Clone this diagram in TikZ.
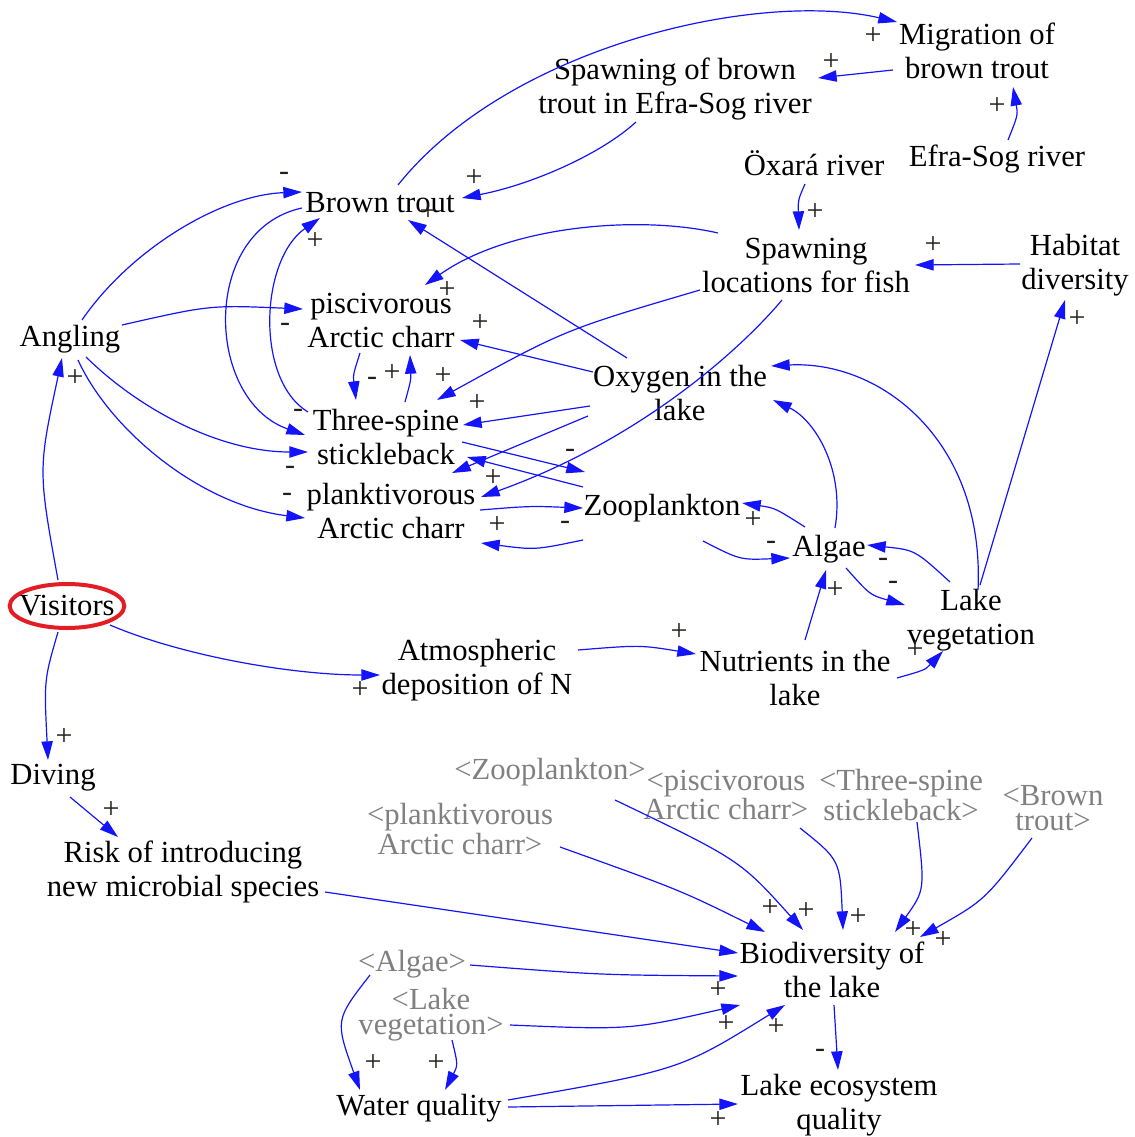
\documentclass[tikz,border=0pt]{standalone}
\usepackage{fontspec}
\setmainfont{Liberation Serif}
\usetikzlibrary{arrows.meta,calc}
\definecolor{linkblue}{RGB}{20,20,250}
\definecolor{shadow}{RGB}{128,128,128}
\definecolor{ring}{RGB}{228,28,36}
\definecolor{signink}{RGB}{35,30,25}
\tikzset{
  lbl/.style={font=\fontsize{23}{25.5}\selectfont, align=center, inner sep=0pt, text=black},
  ghost/.style={font=\fontsize{23}{18.8}\selectfont, align=center, inner sep=0pt, text=shadow},
  link/.style={draw=linkblue, line width=0.9pt, -{Triangle[length=14pt,width=8.5pt]}, fill=none},
  sgn/.style={font=\fontsize{22.5}{25.5}\selectfont, inner sep=0pt, text=signink},
}
\begin{document}
\begin{tikzpicture}[x=0.75pt,y=-0.75pt]
\useasboundingbox (0,0) rectangle (1134,1137);

% ---------- variables ----------
\node[lbl] (mig)   at (977,51)   {Migration of\\brown trout};
\node[lbl] (spb)   at (675,89)   {Spawning of brown\\trout in Efra-Sog river};
\node[lbl] (efra)  at (997,159)  {Efra-Sog river};
\node[lbl] (oxara) at (814,163)  {Öxará river};
\node[lbl] (bt)    at (380,203)  {Brown trout};
\node[lbl] (sloc)  at (806,265)  {Spawning\\locations for fish};
\node[lbl] (hab)   at (1075,265) {Habitat\\diversity};
\node[lbl] (pisc)  at (381,320)  {piscivorous\\Arctic charr};
\node[lbl] (ang)   at (70,339)   {Angling};
\node[lbl] (oxy)   at (680,393)  {Oxygen in the\\lake};
\node[lbl] (tss)   at (386,437)  {Three-spine\\stickleback};
\node[lbl] (plk)   at (391,511)  {planktivorous\\Arctic charr};
\node[lbl] (zoo)   at (662,508)  {Zooplankton};
\node[lbl] (alg)   at (829,549)  {Algae};
\node[lbl] (veg)   at (971,620)  {Lake\\vegetation};
\node[lbl] (vis)   at (67,606)   {Visitors};
\node[lbl] (atm)   at (477,670)  {Atmospheric\\deposition of N};
\node[lbl] (nut)   at (795,678)  {Nutrients in the\\lake};
\node[lbl] (div)   at (53,778)   {Diving};
\node[lbl] (risk)  at (183,872)  {Risk of introducing\\new microbial species};
\node[lbl] (bio)   at (832,970)  {Biodiversity of\\the lake};
\node[lbl] (wq)    at (419,1108) {Water quality};
\node[lbl] (leq)   at (839,1105) {Lake ecosystem\\quality};

% highlight ring round the visitors variable
\draw[ring, line width=3pt] (vis) ellipse [x radius=43pt, y radius=16.5pt];

% ---------- shadow variables ----------
\node[ghost] (gzoo)  at (550,772)  {<Zooplankton>};
\node[ghost] (gpisc) at (726,795)  {<piscivorous\\Arctic charr>};
\node[ghost] (gtss)  at (901,795)  {<Three-spine\\stickleback>};
\node[ghost] (gbt)   at (1053,808) {<Brown\\trout>};
\node[ghost] (gplk)  at (460,829)  {<planktivorous\\Arctic charr>};
\node[ghost] (galg)  at (412,964)  {<Algae>};
\node[ghost] (gveg)  at (431,1015) {<Lake\\vegetation>};

% ---------- links: upper part ----------
\draw[link] ($(bt)+(18,-18)$) .. controls (510,45) and (760,-10) .. ($(mig)+(-80,-29)$);
\draw[link] ($(mig)+(-84,19)$) -- ($(spb)+(143,-11)$);
\draw[link] ($(efra)+(11,-19)$) .. controls (1018,115) .. ($(mig)+(36,36)$);
\draw[link] ($(spb)+(-39,33)$) .. controls (600,155) and (530,185) .. ($(bt)+(82,-5)$);
\draw[link] ($(oxara)+(-9,21)$) .. controls (798,200) .. ($(sloc)+(-7,-35)$);
\draw[link] ($(hab)+(-55,-1)$) -- ($(sloc)+(109,0)$);
\draw[link] ($(veg)+(9,-35)$) -- ($(hab)+(-10,35)$);
\draw[link] ($(sloc)+(-88,-32)$) .. controls (640,215) and (510,225) .. ($(pisc)+(44,-35)$);
\draw[link] ($(sloc)+(-106,25)$) .. controls (564,330) .. ($(tss)+(51,-37)$);
\draw[link] ($(sloc)+(-24,35)$) .. controls (740,350) and (640,440) .. ($(plk)+(90,-14)$);

% ---------- links: oxygen ----------
\draw[link] ($(oxy)+(-53,-35)$) -- ($(bt)+(28,17)$);
\draw[link] ($(oxy)+(-87,-21)$) -- ($(pisc)+(79,20)$);
\draw[link] ($(oxy)+(-90,13)$) -- ($(tss)+(77,-12)$);
\draw[link] ($(oxy)+(-92,23)$) -- ($(plk)+(61,-38)$);

% ---------- links: fish and zooplankton ----------
\draw[link] ($(tss)+(76,5)$) -- ($(zoo)+(-77,-36)$);
\draw[link] ($(zoo)+(-79,-21)$) -- ($(tss)+(81,20)$);
\draw[link] ($(plk)+(89,-1)$) .. controls (530,506) .. ($(zoo)+(-79,0)$);
\draw[link] ($(zoo)+(-79,32)$) .. controls (535,550) .. ($(plk)+(90,32)$);
\draw[link] ($(bt)+(-78,5)$) .. controls (200,230) and (205,400) .. ($(tss)+(-81,-2)$);
\draw[link] ($(tss)+(-78,-25)$) .. controls (255,380) and (260,260) .. ($(bt)+(-60,15)$);
\draw[link] ($(pisc)+(-21,33)$) .. controls (353,375) .. ($(tss)+(-30,-37)$);
\draw[link] ($(tss)+(19,-35)$) .. controls (411,380) .. ($(pisc)+(29,35)$);

% ---------- links: angling and visitors ----------
\draw[link] ($(ang)+(12,-19)$) .. controls (130,250) and (220,195) .. ($(bt)+(-78,-11)$);
\draw[link] ($(ang)+(52,-14)$) .. controls (210,305) .. ($(pisc)+(-78,-11)$);
\draw[link] ($(ang)+(16,18)$) .. controls (140,410) and (220,452) .. ($(tss)+(-78,15)$);
\draw[link] ($(ang)+(8,21)$) .. controls (110,430) and (200,505) .. ($(plk)+(-86,7)$);
\draw[link] ($(vis)+(-9,-26)$) .. controls (38,470) .. ($(ang)+(-8,19)$);
\draw[link] ($(vis)+(43,19)$) .. controls (180,655) and (290,675) .. ($(atm)+(-97,5)$);
\draw[link] ($(vis)+(-9,26)$) .. controls (44,680) .. ($(div)+(-5,-18)$);
\draw[link] ($(div)+(17,19)$) -- ($(risk)+(-65,-35)$);

% ---------- links: algae, vegetation, nutrients ----------
\draw[link] ($(alg)+(-24,-22)$) .. controls (775,508) .. ($(zoo)+(80,-5)$);
\draw[link] ($(zoo)+(41,33)$) .. controls (740,560) .. ($(alg)+(-39,9)$);
\draw[link] ($(alg)+(6,-21)$) .. controls (845,470) and (815,420) .. ($(oxy)+(93,7)$);
\draw[link] ($(veg)+(7,-30)$) .. controls (985,440) and (880,360) .. ($(oxy)+(91,-27)$);
\draw[link] ($(veg)+(-21,-38)$) .. controls (915,550) .. ($(alg)+(38,-4)$);
\draw[link] ($(alg)+(17,19)$) .. controls (870,595) .. ($(veg)+(-66,-15)$);
\draw[link] ($(nut)+(10,-38)$) -- ($(alg)+(-3,21)$);
\draw[link] ($(nut)+(102,0)$) .. controls (925,670) .. ($(veg)+(-28,31)$);
\draw[link] ($(atm)+(101,-20)$) .. controls (640,645) .. ($(nut)+(-99,-24)$);

% ---------- links: biodiversity ----------
\draw[link] ($(gplk)+(100,18)$) .. controls (680,890) .. ($(bio)+(-67,-38)$);
\draw[link] ($(gzoo)+(65,28)$) .. controls (740,860) .. ($(bio)+(-29,-40)$);
\draw[link] ($(gpisc)+(74,33)$) .. controls (840,860) .. ($(bio)+(11,-40)$);
\draw[link] ($(gtss)+(16,27)$) .. controls (925,890) .. ($(bio)+(63,-38)$);
\draw[link] ($(gbt)+(-21,30)$) .. controls (985,900) .. ($(bio)+(88,-33)$);
\draw[link] ($(risk)+(142,20)$) -- ($(bio)+(-94,-17)$);
\draw[link] ($(galg)+(58,1)$) .. controls (600,975) .. ($(bio)+(-94,6)$);
\draw[link] ($(gveg)+(79,10)$) .. controls (630,1030) .. ($(bio)+(-92,35)$);
\draw[link] ($(wq)+(89,-8)$) .. controls (680,1070) .. ($(bio)+(-47,35)$);
\draw[link] ($(bio)+(2,35)$) -- ($(leq)+(-1,-35)$);
\draw[link] ($(wq)+(89,-1)$) -- ($(leq)+(-101,-1)$);
\draw[link] ($(galg)+(-42,11)$) .. controls (335,1020) .. ($(wq)+(-59,-18)$);
\draw[link] ($(gveg)+(21,25)$) .. controls (458,1065) .. ($(wq)+(26,-18)$);

% ---------- polarity signs ----------
\node[sgn] (p1)  at (873,36)   {+};
\node[sgn] (p2)  at (831,62)   {+};
\node[sgn] (p3)  at (997,106)  {+};
\node[sgn] (p4)  at (474,178)  {+};
\node[sgn] (p5)  at (815,212)  {+};
\node[sgn] (p6)  at (933,245)  {+};
\node[sgn] (p7)  at (1077,319) {+};
\node[sgn] (p8)  at (447,290)  {+};
\node[sgn] (p9)  at (443,376)  {+};
\node[sgn] (p10) at (493,478)  {+};
\node[sgn] (p11) at (428,212)  {+};
\node[sgn] (p12) at (480,323)  {+};
\node[sgn] (p13) at (477,403)  {+};
\node[sgn] (m15) at (570,453)  {-};
\node[sgn] (m17) at (565,525)  {-};
\node[sgn] (p18) at (497,525)  {+};
\node[sgn] (m19) at (284,176)  {-};
\node[sgn] (m20) at (285,327)  {-};
\node[sgn] (m21) at (290,470)  {-};
\node[sgn] (m22) at (287,497)  {-};
\node[sgn] (p23) at (75,378)   {+};
\node[sgn] (m24) at (298,413)  {-};
\node[sgn] (p25) at (315,241)  {+};
\node[sgn] (m26) at (372,381)  {-};
\node[sgn] (p27) at (392,373)  {+};
\node[sgn] (p28) at (753,520)  {+};
\node[sgn] (m29) at (771,545)  {-};
\node[sgn] (m32) at (883,562)  {-};
\node[sgn] (m33) at (893,585)  {-};
\node[sgn] (p34) at (835,590)  {+};
\node[sgn] (p35) at (915,650)  {+};
\node[sgn] (p36) at (679,632)  {+};
\node[sgn] (p37) at (360,690)  {+};
\node[sgn] (p38) at (64,737)   {+};
\node[sgn] (p39) at (111,810)  {+};
\node[sgn] (p40) at (770,908)  {+};
\node[sgn] (p41) at (806,911)  {+};
\node[sgn] (p42) at (858,917)  {+};
\node[sgn] (p43) at (913,930)  {+};
\node[sgn] (p44) at (943,940)  {+};
\node[sgn] (p46) at (718,990)  {+};
\node[sgn] (p47) at (726,1024) {+};
\node[sgn] (p48) at (776,1027) {+};
\node[sgn] (m49) at (820,1053) {-};
\node[sgn] (p50) at (718,1120) {+};
\node[sgn] (p51) at (373,1063) {+};
\node[sgn] (p52) at (436,1063) {+};
\end{tikzpicture}
\end{document}
